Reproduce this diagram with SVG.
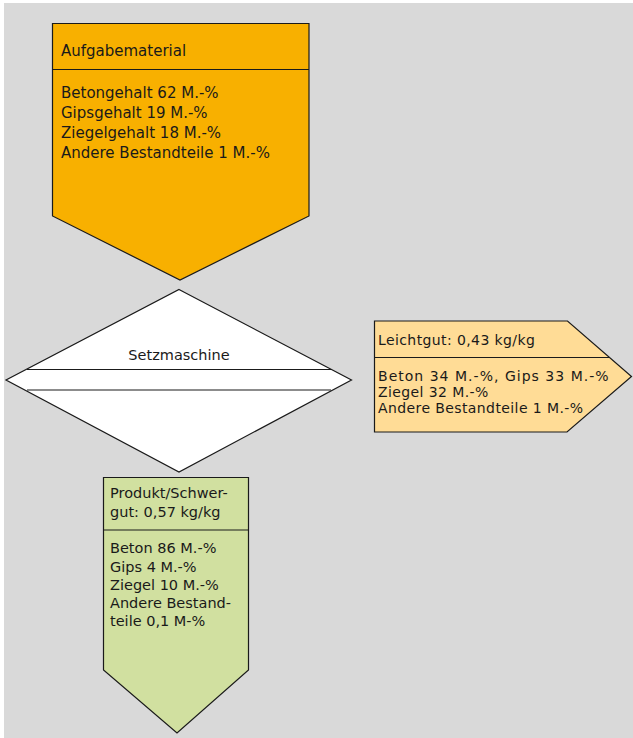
<svg xmlns="http://www.w3.org/2000/svg" width="633" height="738" viewBox="0 0 633 738">
<style>
.s{stroke:#1a1a1a;stroke-width:1.2;stroke-linejoin:miter}
.t{font-family:"DejaVu Sans","Liberation Sans",sans-serif;fill:#1a1a1a}
.a{font-size:15px}
.b{font-size:14px;letter-spacing:0.4px}
.c{font-size:14.5px}
</style>
<rect x="0" y="0" width="633" height="738" fill="#ffffff"/>
<rect x="4" y="3" width="629" height="735" fill="#d9d9d9"/>
<g id="connectors"/>
<g id="aufgabematerial">
<path class="s" d="M52.5,23.5 H309 V216 L180,280 L52.5,216 Z" fill="#f8b000"/>
<line class="s" x1="52.5" y1="69.5" x2="309" y2="69.5"/>
<text class="t a" x="61" y="56">Aufgabematerial</text>
<text class="t a" x="61" y="98">Betongehalt 62 M.-%</text>
<text class="t a" x="61" y="118">Gipsgehalt 19 M.-%</text>
<text class="t a" x="61" y="138">Ziegelgehalt 18 M.-%</text>
<text class="t a" x="61" y="158">Andere Bestandteile 1 M.-%</text>
</g>
<g id="setzmaschine">
<path class="s" d="M179,289.5 L351.5,380 L179,472 L6,380 Z" fill="#ffffff"/>
<line class="s" x1="27" y1="369.5" x2="331.5" y2="369.5"/>
<line class="s" x1="27" y1="390" x2="331" y2="390"/>
<text class="t c" x="179" y="360" text-anchor="middle">Setzmaschine</text>
</g>
<g id="leichtgut">
<path class="s" d="M374.5,321 H567.5 L631.5,376.5 L567,432 H374.5 Z" fill="#ffdc96"/>
<line class="s" x1="374.5" y1="357.5" x2="609.5" y2="357.5"/>
<text class="t b" x="378" y="345">Leichtgut: 0,43 kg/kg</text>
<text class="t b" x="378" y="381" textLength="231" lengthAdjust="spacing">Beton 34 M.-%, Gips 33 M.-%</text>
<text class="t b" x="378" y="397">Ziegel 32 M.-%</text>
<text class="t b" x="378" y="413">Andere Bestandteile 1 M.-%</text>
</g>
<g id="schwergut">
<path class="s" d="M103.5,477.5 H248.5 V670 L177,733 L103.5,670 Z" fill="#d1e0a0"/>
<line class="s" x1="103.5" y1="530" x2="248.5" y2="530"/>
<text class="t c" x="110" y="498">Produkt/Schwer-</text>
<text class="t c" x="110" y="517">gut: 0,57 kg/kg</text>
<text class="t c" x="110" y="553">Beton 86 M.-%</text>
<text class="t c" x="110" y="572">Gips 4 M.-%</text>
<text class="t c" x="110" y="590">Ziegel 10 M.-%</text>
<text class="t c" x="110" y="608">Andere Bestand-</text>
<text class="t c" x="110" y="626">teile 0,1 M-%</text>
</g>
</svg>
